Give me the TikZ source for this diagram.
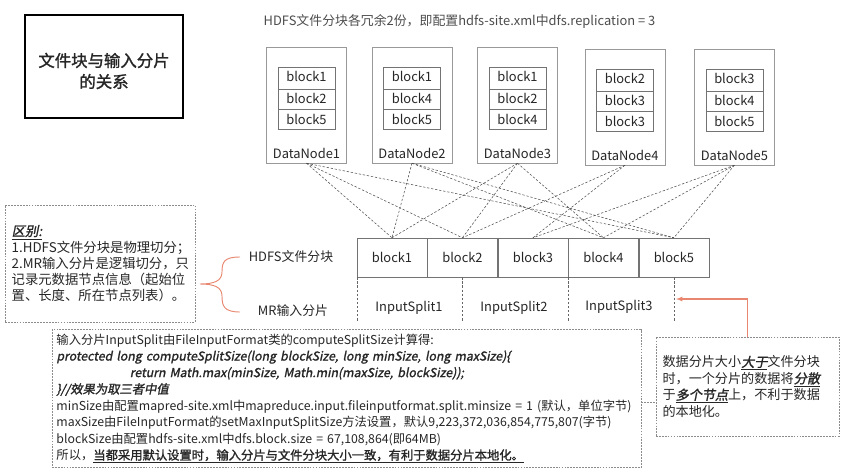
\documentclass[tikz,border=0pt]{standalone}
\usepackage{fontspec}
\newfontfamily\cjk{Noto Sans CJK SC}
\newfontfamily\cjkb[FakeBold=1.5]{Noto Sans CJK SC}
\newfontfamily\cjkbi[FakeSlant=0.2,FakeBold=1.5]{Noto Sans CJK SC}
\usetikzlibrary{positioning, shapes, arrows}
\definecolor{brc}{HTML}{E8866F}

\begin{document}
\begin{tikzpicture}[x=0.03cm, y=-0.03cm, font=\cjk\fontsize{11}{13}\selectfont, text=black!85,
    dn/.style={draw=black!40, minimum width=2.4cm, minimum height=3.48cm},
    stack/.style={rectangle split, rectangle split parts=3, draw=black!55, text width=1.5cm, align=center,
      inner xsep=0.1cm, inner ysep=3.9pt, text height=8pt, text depth=2.5pt},
    blk/.style={draw=black!55, minimum width=2.1cm, minimum height=1.17cm},
    link/.style={draw=black!70, dashed, dash pattern=on 2pt off 1.5pt, line width=0.45pt},
    split/.style={draw=black!60, dashed, dash pattern=on 2pt off 1.5pt, line width=0.45pt},
    note/.style={draw=black!45, dashed, dash pattern=on 1.5pt off 1pt, line width=0.5pt}]
  \useasboundingbox (0,0) rectangle (853,475);

  \node[draw=black, line width=1.6pt, minimum width=4.74cm, minimum height=3.09cm] (title) at (104,66.5) {};
  \node[align=center, font=\cjkb\fontsize{14}{18}\selectfont] (ttl) at (104,71) {文件块与输入分片\\的关系};
  \node[text=black!70] (cap) at (459.5,21) {HDFS文件分块各冗余2份，即配置hdfs-site.xml中dfs.replication = 3};

  \node[dn] (dn1) at (306.5,105) {};
  \node[dn, right=0.75cm of dn1] (dn2) {};
  \node[dn, right=0.75cm of dn2] (dn3) {};
  \node[dn, right=0.81cm of dn3, yshift=-0.06cm] (dn4) {};
  \node[dn, right=0.87cm of dn4] (dn5) {};
  \node[stack, below=0.6cm of dn1.north] (s1) {block1\nodepart{two}block2\nodepart{three}block5};
  \node[stack, below=0.6cm of dn2.north] (s2) {block1\nodepart{two}block4\nodepart{three}block5};
  \node[stack, below=0.6cm of dn3.north] (s3) {block1\nodepart{two}block2\nodepart{three}block4};
  \node[stack, below=0.6cm of dn4.north] (s4) {block2\nodepart{two}block3\nodepart{three}block3};
  \node[stack, below=0.6cm of dn5.north] (s5) {block3\nodepart{two}block4\nodepart{three}block5};
  \node (l1) at ([yshift=0.3cm]dn1.south) {DataNode1};
  \node (l2) at ([yshift=0.3cm]dn2.south) {DataNode2};
  \node (l3) at ([yshift=0.3cm]dn3.south) {DataNode3};
  \node (l4) at ([yshift=0.3cm]dn4.south) {DataNode4};
  \node (l5) at ([yshift=0.3cm]dn5.south) {DataNode5};

  \node[blk] (b1) at (392,257.5) {block1};
  \node[blk, right=0pt of b1] (b2) {block2};
  \node[blk, right=0pt of b2] (b3) {block3};
  \node[blk, right=0pt of b3] (b4) {block4};
  \node[blk, right=0pt of b4] (b5) {block5};

  \draw[link] (dn1.south) -- (b1.north);
  \draw[link] (dn1.south) -- (b2.north);
  \draw[link] (dn1.south) -- (b5.north);
  \draw[link] (dn2.south) -- (b1.north);
  \draw[link] (dn2.south) -- (b4.north);
  \draw[link] (dn2.south) -- (b5.north);
  \draw[link] (dn3.south) -- (b1.north);
  \draw[link] (dn3.south) -- (b2.north);
  \draw[link] (dn3.south) -- (b4.north);
  \draw[link] (dn4.south) -- (b2.north);
  \draw[link] (dn4.south) -- (b3.north);
  \draw[link] (dn5.south) -- (b3.north);
  \draw[link] (dn5.south) -- (b4.north);
  \draw[link] (dn5.south) -- (b5.north);

  \coordinate (cut) at (0,322);
  \draw[split] (b1.south west) -- (b1.south west |- cut);
  \draw[split] (b2.south) -- (b2.south |- cut);
  \draw[split] (b4.south west) -- (b4.south west |- cut);
  \draw[split] (b5.south) -- (b5.south |- cut);
  \node (is1) at (409,308) {InputSplit1};
  \node (is2) at (514,308) {InputSplit2};
  \node (is3) at (619,307) {InputSplit3};

  \node (hdfs) at (291,257) {HDFS文件分块};
  \node (mr) at (293,311) {MR输入分片};
  \draw[brc, line width=0.8pt] (240,257) .. controls (224,257) and (222,262) .. (222,272)
    .. controls (222,281) and (214,284) .. (200,284)
    .. controls (214,284) and (222,287) .. (222,296)
    .. controls (222,306) and (224,312) .. (240,312);

  \node[note, minimum width=5.7cm, minimum height=3.51cm, text width=5.3cm, align=left,
    font=\cjk\fontsize{11.4}{13.8}\selectfont] (diff) at (100,263.5)
    {\lineskiplimit=-20pt\underline{{\cjkbi 区别:}}\\1.HDFS文件分块是物理切分；\\2.MR输入分片是逻辑切分，只\\记录元数据节点信息（起始位\\置、长度、所在节点列表）。};

  \node[note, minimum width=17.67cm, minimum height=4.11cm, text width=17.4cm, align=left,
    font=\cjk\fontsize{10.5}{14.1}\selectfont] (calc) at (346.5,398.5)
    {输入分片InputSplit由FileInputFormat类的computeSplitSize计算得:\\
     {\cjkbi protected long computeSplitSize(long blockSize, long minSize, long maxSize)\{}\\
     \hspace*{2.2cm}{\cjkbi return Math.max(minSize, Math.min(maxSize, blockSize));}\\
     {\cjkbi \}//效果为取三者中值}\\
     minSize由配置mapred-site.xml中mapreduce.input.fileinputformat.split.minsize = 1 (默认，单位字节)\\
     maxSize由FileInputFormat的setMaxInputSplitSize方法设置，默认9,223,372,036,854,775,807(字节)\\
     blockSize由配置hdfs-site.xml中dfs.block.size = 67,108,864(即64MB)\\
     所以，\underline{{\cjkb 当都采用默认设置时，输入分片与文件分块大小一致，有利于数据分片本地化。}}};

  \node[note, minimum width=5.49cm, minimum height=2.97cm, text width=5.1cm, align=left,
    font=\cjk\fontsize{11.2}{14}\selectfont] (rb) at (747.5,386.5)
    {数据分片大小\underline{{\cjkbi 大于}}文件分块\\时，一个分片的数据将\underline{{\cjkbi 分散}}\\于\underline{{\cjkbi 多个节点}}上，不利于数据\\的本地化。};

  \coordinate (jn) at (0,402);
  \draw[note] (calc.east |- jn) -- (rb.west |- jn);
  \coordinate (tip) at (676,299);
  \draw[brc, line width=0.9pt, -latex] (rb.north) |- (tip);
\end{tikzpicture}
\end{document}
